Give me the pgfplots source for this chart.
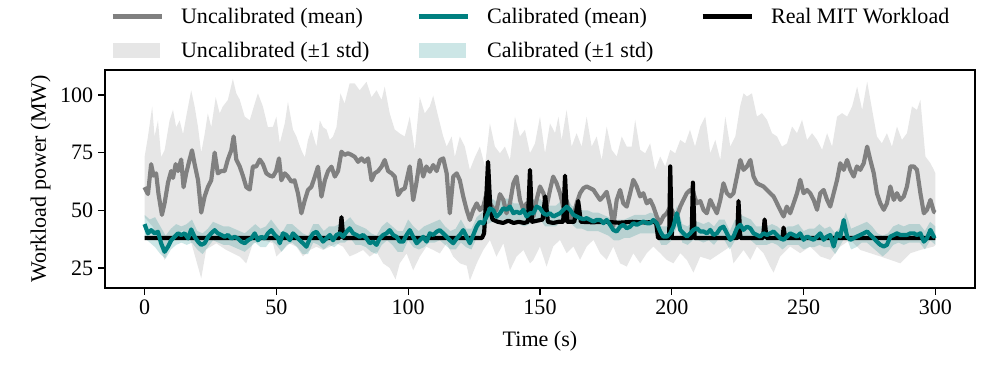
\documentclass[border=0pt]{standalone}
\usepackage{fontspec}
\setmainfont{Liberation Serif}
\usepackage{pgfplots}
\pgfplotsset{compat=1.18}
\usepackage{pgfplotstable}
\usepgfplotslibrary{fillbetween}
\definecolor{tealc}{HTML}{008080}
\definecolor{grayc}{HTML}{808080}
\pgfplotsset{
  lineleg/.style={legend image code/.code={\draw[##1] (0bp,0bp) -- (36bp,0bp);}},
  patchleg/.style={legend image code/.code={\fill[##1] (0bp,-5.4bp) rectangle (34bp,5.4bp);}},
}

% uncalibrated mean
\pgfplotstableread{
t v
0 60
1.3 57
2.5 70
3.4 65
4.4 66
5.3 57
6.6 48
7.6 53
8.9 62
10.1 67
10.8 64
11.8 70
12.7 67
13.9 72
14.8 60
15.8 66
17.1 72
18 76
19 70
20.3 63
21.5 49
22.8 56
24 60
25.3 63
26.6 75
27.8 66
29.1 67
30.4 67
31.6 72
32.9 76
33.8 82
34.8 72
36.1 69
37.3 65
38.6 60
39.9 59
41.1 69
42.4 69
43.7 72
44.9 70
46.2 66
47.5 65
48.7 64.6
49.9 67
51 72.5
51.9 63
53.2 66
54.4 64.6
55.7 62.4
56.9 63
58.2 57.3
59.5 48.7
60.8 54.4
62 58.8
63.3 60.2
64.6 64.6
65.8 68.9
67.1 55.9
68.4 63
69.6 67
70.9 68.9
72.2 64.6
73.4 67
74.7 75.4
75.9 74
77.2 74.7
78.5 74
79.7 73.2
81 71
82.3 72.5
83.5 71
84.8 72.5
86.1 63
87.3 66
88.6 67
89.9 68.9
91.1 71.8
92.4 67
93.7 66
94.9 64.6
96.2 56.6
97.5 58.8
98.7 59.5
100.6 69
101.9 54.4
103.1 61.7
104.4 71.8
105.7 64.6
106.9 69
108.2 66.7
109.5 69.6
110.8 67
112.1 71.8
113.3 72.5
114.6 66
115.8 48.7
117.1 64.6
118.4 66
119.6 63
120.9 55.9
122.2 50.1
123.4 45.8
124.7 50.1
126 53
127.2 50.1
128.5 51.6
129.7 57.3
131 53
132.3 50.8
133.5 50.1
134.8 57
136.1 54.5
137.3 48.7
138.6 53
139.9 61.7
141.1 64.6
142.4 54.5
143.7 50.2
144.9 53
146.2 51.6
147.5 47.3
148.7 54.5
150 60.3
151.3 57.4
152.5 51.6
153.8 58.8
155 64.6
156.3 61.7
157.6 57.4
158.8 51.6
160.1 54.5
161.4 45.8
162.7 47.3
163.9 53
165.2 57.4
166.5 59.6
167.7 60.3
169 59.6
170.3 58.8
171.5 56.7
172.8 54.5
174 56
175.3 58
176.6 51.6
177.8 43
179.1 54.5
180.4 58.8
181.6 53
182.9 51.6
184.2 57.4
185.4 63.2
186.7 60.3
188 56
189.2 57.4
190.5 53
191.8 54.5
193 51.6
194.3 47.3
195.6 44.4
196.8 47.3
198.1 48.7
199.4 51.6
200.6 48.7
201.9 47.3
203.2 51.6
204.4 54.5
205.7 57.4
207 58.8
208.2 57.4
209.5 53
210.8 54
212.1 50
213.3 48.7
214.6 54.5
215.8 51.6
217.1 48.7
218.4 54.5
219.6 61.7
220.9 57.4
222.2 56
223.4 57.4
224.7 64.6
226 71.8
227.2 67.5
228.5 69
229.8 71.8
231 64.6
232.3 61.7
233.5 61
234.8 60.3
236.1 58.8
237.3 57.4
238.6 56
239.9 53
241.1 50.2
242.4 47.3
243.6 51.6
244.9 48.7
246.2 53
247.5 57.4
248.7 63.2
250 57.4
251.3 58.8
252.5 57.4
253.8 54.5
255.1 50.2
256.3 57.4
257.6 58.8
258.9 54.5
260.1 51.6
261.4 57.4
262.7 63.2
263.9 70.4
265.2 67.5
266.5 71.8
267.7 67.5
269 64.6
270.2 69
271.5 67.5
272.8 70.4
274.1 77.6
275.3 71.8
276.6 66.1
277.8 57.4
279.1 53
280.4 50.2
281.6 53
282.9 60.3
284.2 54.5
285.4 57.4
286.7 54.5
288 56
289.2 60.3
290.5 69
291.8 69
293 67.5
294.3 57.4
295.6 48.7
296.8 50.2
298.1 54.5
299.4 49.4
300 49
}\uncalmean

% uncalibrated mean + 1 std
\pgfplotstableread{
t v
0 73
1.3 82
2.9 95
3.8 82
5.1 89
6.3 73
7.6 76
9.5 89
10.8 93.5
12 86
13.3 89
14.6 83
15.8 90.6
17.7 102
19 95
20.3 86
21.5 75
22.8 83
24 92
25.3 86
27 99
28.5 92
29.7 95
31.6 97.8
33.5 107
34.8 100.7
36.1 98
38 90.6
39.9 89
41.8 96.3
43 100.7
44.9 95
46.8 86
48.7 86.2
50 90.6
51.3 79
53.2 87.7
54.4 97
56.3 85
57.6 82
59.5 76
60.8 73
62 80.5
63.3 85
65.2 77.6
66.5 89
67.7 86
69 85
70.3 80.5
71.5 82
72.8 86
74.3 100.7
75.9 96.3
77.8 105
79.7 105
81.6 102
84.2 105.7
86.1 99
88 102
89.9 97.8
91.1 103.6
93 92
94.9 85
96.8 83.3
98.7 82
100.6 90.6
102.5 76
104.4 99
106.3 92
108.2 95
109.5 99.7
111.4 90.6
113.3 82
114.6 77.6
116.5 82
117.7 73.2
119.6 82
121.5 77.6
123.4 67.5
125.3 73
127.2 77.6
129.1 69
131 87.7
132.9 77.6
134.8 74.7
136.7 77.6
138.6 71.8
140.5 90.6
142.4 82
144.3 84.9
146.2 74.7
148.1 79
150 90.6
151.9 74.7
153.8 87.7
155.7 83.4
157 90.6
158.2 80.5
160.1 93.5
162 77.6
163.9 83.4
165.8 77.6
167.7 90.6
169.6 77.6
171.5 82
173.4 71.8
175.3 86.3
177.2 76.2
179.1 73.3
181 82
182.9 77.6
184.8 77.6
186.1 89.2
188 76.2
189.9 74.7
191.8 79
193.7 67.5
195.6 73.3
197.5 69
199.4 76.2
201.3 74.7
203.2 80.5
205.1 79
206.9 84.9
208.8 77.6
210.8 86.3
212.7 90.6
214.6 74.7
216.5 80.5
218.4 71.8
220.3 90.6
222.2 77.6
224.1 82
225.9 95
227.2 100.7
228.5 99.3
230.4 100.7
232.3 90.6
234.2 92.1
236.1 89.2
238 83.4
239.9 82
241.8 77.6
243.7 79
245.6 86.3
247.5 83.4
249.4 89.2
251.3 80.5
253.2 83.4
255.1 80.5
257 76.2
258.9 83.4
260.8 77.6
262.7 90.6
264.6 92.1
266.5 90.6
268.4 95
270.3 103.6
272.2 93.5
274.1 105.8
276 93.5
277.8 82
279.7 79
281.6 83.4
283.5 77.6
285.4 86.3
287.3 80.5
289.2 83.4
291.1 95
293 93.5
294.3 97.9
296.2 73.3
298.1 70.4
299.4 67.5
300 66
}\uncalhi

% uncalibrated mean - 1 std
\pgfplotstableread{
t v
0 47
3.2 42.8
7.6 28.4
10.8 38.5
14.6 41.4
17.1 38.5
21.5 20.5
23.4 33
27.2 35.7
31 32.8
36.1 29.9
38.6 27
41.1 35.7
44.9 37.1
48.7 35.7
50 30
52.5 32.8
55 35.7
57.6 34.2
60.1 30
62.7 32.8
65.2 34.2
67.7 32.8
70.3 34.2
72.8 35.7
75.3 34.2
77.8 30
80.4 31.3
82.9 32.8
85.4 29.9
88 32
90.5 27
93 25
95.2 20
96.8 27
99.4 31.3
101.9 24
104.4 29.9
106.9 34.2
109.5 32.8
112 31.3
114.6 35.7
117.1 29.9
119.6 27
122.2 26
123.4 19.5
126 27
128.5 32.8
131 37.1
133.5 29.9
136.1 35.7
138.6 24
141.1 29.9
143.7 32.8
146.2 27
147.5 28.5
150 34.3
152.5 25.6
155 34.3
157.6 37.2
160.1 31.4
162.7 34.3
165.2 28.5
167.7 34.3
170.3 37.2
172.8 31.4
175.3 28.5
177.8 34.3
180.4 27
182.9 25.6
185.4 31.4
188 27
190.5 31.4
193 34.3
195.6 31.4
198.1 28.5
200.6 27
203.2 31.4
205.7 28.5
208.2 23
210.8 29.9
214.6 28.5
218.4 31.4
222.2 34.3
223.4 27
227.2 32.8
229.8 28.5
232.3 34.3
234.8 31.4
237.3 25.6
238.6 23
241.1 30
244.9 34.3
248.7 31.4
252.5 34.3
256.3 30
260.1 28.5
263.9 34.3
267.7 37.2
271.5 32.8
275.3 31.4
279.1 30
282.9 28.5
286.7 27
290.5 31.4
294.3 32.8
299.4 34.3
300 35
}\uncallo

% calibrated mean
\pgfplotstableread{
t v
0 44
1.3 40
2.5 41.4
3.8 40
5.1 40.7
6.3 35.7
7.6 32
8.9 34.2
10.1 37
11.4 38.5
12.7 40
13.9 39.3
15.2 40
16.5 37.8
17.7 41.7
19 38.5
20.3 36.4
21.5 35
22.8 35.7
24.1 38.5
25.3 40
26.6 41.4
27.8 40
29.1 39.3
30.4 38.5
31.6 39.3
32.9 37.8
34.2 38.5
35.4 37.8
36.7 36.4
38 35.7
39.2 37
40.5 37.8
41.8 40
43 37
44.3 38.5
45.6 37.8
46.8 40
48.1 41.4
49.4 39.3
50.6 38
51.3 35.7
52.5 40
53.8 39.3
55.1 37
56.3 40
57.6 38.5
58.9 37
60.1 35.7
61.4 34.2
62.7 37.8
64 40
65.2 40.7
66.5 38.5
67.7 36.4
69 37.8
70.3 39.3
71.5 37
72.8 39.3
74.1 40
75.3 38.5
76.6 40.7
77.8 42.2
79.1 40
80.4 39.3
81.6 38.5
82.9 39.3
84.2 37.8
85.4 35.7
86.7 36.4
88 35
89.2 37.8
90.5 39.3
91.8 40
93 41.4
94.3 39.3
95.6 38.5
96.8 36.4
98.1 36.4
99.4 39.3
100.6 41.4
101.9 38.5
103.2 35.7
104.4 37
105.7 38.5
107 36.4
108.2 40
109.5 39.3
110.8 40.7
112 41.4
113.3 40
114.6 38.5
115.8 37
117.1 35.7
118.4 37.8
119.6 39.3
120.9 41.4
122.2 38.5
123.4 35.7
124.7 39.3
126 43
127.2 45
128.5 44.3
129.7 47.2
131 50.8
132.3 50
133.5 47.2
134.8 48.7
136.1 50.9
137.3 50.2
138.6 51.6
139.9 48.7
141.1 49.4
142.4 48.7
143.7 50.2
144.9 47.3
146.2 48.7
147.5 48.7
148.7 51.6
150 50.9
151.3 48.7
152.5 48
153.8 48.7
155.1 47.3
156.3 48
157.6 48.7
158.9 50.2
160.1 51.6
161.4 50.2
162.7 48
163.9 47.3
165.2 46.6
166.5 46.1
167.7 46.6
169 45.8
170.3 45.1
171.5 45.8
172.8 45.8
174.1 44.4
175.3 45.8
176.6 43.7
177.8 41.5
179.1 40.8
180.4 42.9
181.6 43.7
182.9 42.2
184.2 42.9
185.4 44.4
186.7 43.7
188 44.4
189.2 45.1
190.5 44.4
191.8 44.4
193 45.8
194.3 44.4
195.6 40.8
196.8 38.6
198.1 38.6
199.4 40
200.6 42.9
201.9 48.7
203.2 41.5
204.4 40
205.7 38.6
207 40
208.2 41.5
209.5 42.2
210.8 40.8
212.1 40.8
213.3 40
214.6 41.5
215.8 39.3
217.1 40
218.4 42.2
219.6 42.9
220.9 40
222.2 37.2
223.4 38.6
224.7 42.2
226 43.7
227.2 41.5
228.5 42.9
229.8 42.2
231 40
232.3 39.3
233.5 38.6
234.8 40
236.1 39.3
237.3 40
238.6 40.8
239.9 39.3
241.1 37.9
242.4 37.2
243.7 38.6
244.9 40
246.2 39.3
247.5 38.6
248.7 40
250 37.2
251.3 38.6
252.5 37.9
253.8 37.2
255.1 38.6
256.3 40
257.6 37.2
258.9 38.6
260.1 39.3
261.4 34.3
262.7 40
263.9 38.6
265.2 45.8
266.5 38.6
267.7 37.2
269 37.9
270.2 38.6
271.5 39.3
272.8 40
274.1 40.8
275.3 39.3
276.6 37.9
277.8 36.4
279.1 35
280.4 34.3
281.6 35
282.9 38.6
284.2 39.3
285.4 40
286.7 39.3
288 39.3
289.2 39.3
290.5 40
291.8 40
293 39.3
294.3 40
295.6 36.4
296.8 37.9
298.1 41.5
299.4 38.6
300 39
}\calmean

% calibrated mean -/+ 1 std
\pgfplotstableread{
t lo hi
0 38 48
2 36 46
4 34 47
6 31 43
8 29 39
10 33 42
12 35 44
14 36 43
16 35 44
18 36 46
20 33 41
22 31 40
24 34 42
26 37 45
28 36 44
30 35 43
32 35 43
34 34 42
36 33 41
38 32 40
40 34 42
42 36 44
44 34 42
46 34 43
48 37 46
50 35 43
52 32 40
54 35 44
56 36 44
58 34 42
60 31 40
62 31 39
64 36 44
66 35 44
68 33 41
70 35 43
72 34 43
74 36 44
76 36 45
78 38 47
80 35 44
82 35 43
84 34 42
86 32 40
88 31 39
90 35 43
92 37 45
94 35 43
96 32 41
98 32 41
100 37 46
102 34 43
104 33 41
106 34 43
108 36 44
110 36 45
112 37 46
114 35 43
116 33 41
118 33 42
120 36 46
122 34 42
124 33 42
126 38 47
128 40 49
130 44 53
132 45 55
134 44 53
136 46 55
138 46 55
140 44 53
142 44 53
144 43 52
146 44 53
148 46 55
150 46 55
152 43 52
154 43 52
156 43 52
158 45 54
160 47 56
162 44 52
164 42 51
166 42 50
168 41 50
170 41 49
172 41 49
174 40 48
176 39 47
178 37 45
180 37 46
182 38 46
184 38 47
186 39 48
188 40 48
190 40 48
192 40 49
194 40 48
196 35 43
198 35 43
200 37 46
202 43 52
204 36 44
206 35 43
208 37 45
210 37 45
212 36 44
214 37 45
216 35 43
218 38 46
220 37 46
222 33 41
224 37 46
226 39 48
228 38 47
230 37 46
232 35 43
234 35 43
236 35 43
238 36 44
240 35 43
242 33 41
244 35 43
246 35 43
248 35 44
250 33 41
252 34 42
254 34 42
256 35 44
258 34 42
260 34 43
262 31 40
264 35 43
266 39 49
268 33 42
270 34 43
272 36 44
274 36 45
276 34 43
278 32 40
280 30 39
282 32 40
284 35 43
286 36 44
288 35 43
290 36 44
292 36 44
294 36 44
296 33 41
298 37 45
300 35 43
}\calband

% real workload
\pgfplotstableread{
t v
0 38
74 38
74.7 47
75.4 38
128 38
128.8 40
129.6 55
130.3 71
131.2 50
132 46
134 45
136 44.5
138 45.5
140 44.5
142 45
144 44.5
145.4 45
146.2 67.5
147 45
149 45.5
151 46
152 56
153 45
155 44.5
157 45
158.8 45
159.5 65
160.3 45
163 45
164.5 54
165.5 45
170 44.8
175 45
180 44.6
185 45
190 44.7
194 45
194.8 38
199 38
199.4 69
200 38
207.5 38
208 62
208.7 38
224.8 38
225.3 54
226 38
234.6 38
235.2 46
235.9 38
242 38
242.4 42.5
243 38
300 38
}\realmit

\begin{document}
\begin{tikzpicture}
\begin{axis}[
  scale only axis,
  width=628.9bp, height=157.6bp,
  xmin=-15, xmax=315, ymin=16.3, ymax=110.8,
  xtick={0,50,100,150,200,250,300},
  ytick={25,50,75,100},
  tick align=outside, xtick pos=bottom, ytick pos=left,
  major tick length=5bp,
  axis line style={line width=0.9bp},
  every tick/.style={black, line width=0.9bp},
  font=\fontsize{16}{19}\selectfont,
  /pgf/number format/assume math mode=true,
  xlabel={Time (s)}, ylabel={Workload power (MW)},
  xlabel style={yshift=-5bp},
  legend columns=3,
  legend cell align=left,
  legend style={draw=none, fill=none, at={(0.49,1.023)}, anchor=south,
    font=\fontsize{16}{19}\selectfont,
    /tikz/every odd column/.append style={column sep=10bp},
    /tikz/every even column/.append style={column sep=32bp},
    row sep=8bp},
  line join=round,
]
\addplot[name path=gu, draw=none, forget plot] table[x=t,y=v] {\uncalhi};
\addplot[name path=gl, draw=none, forget plot] table[x=t,y=v] {\uncallo};
\addplot[fill=grayc, fill opacity=0.2, draw=none, forget plot] fill between[of=gu and gl];
\addplot[grayc, line width=3bp, forget plot] table[x=t,y=v] {\uncalmean};
\addplot[black, line width=3bp, forget plot] table[x=t,y=v] {\realmit};
\addplot[name path=cu, draw=none, forget plot] table[x=t,y=hi] {\calband};
\addplot[name path=cl, draw=none, forget plot] table[x=t,y=lo] {\calband};
\addplot[fill=tealc, fill opacity=0.2, draw=none, forget plot] fill between[of=cu and cl];
\addplot[tealc, line width=3bp, forget plot] table[x=t,y=v] {\calmean};

\addlegendimage{grayc, line width=3bp, lineleg}
\addlegendentry{Uncalibrated (mean)}
\addlegendimage{tealc, line width=3bp, lineleg}
\addlegendentry{Calibrated (mean)}
\addlegendimage{black, line width=3bp, lineleg}
\addlegendentry{Real MIT Workload}
\addlegendimage{fill=grayc, fill opacity=0.2, draw=none, patchleg}
\addlegendentry{Uncalibrated (±1 std)}
\addlegendimage{fill=tealc, fill opacity=0.2, draw=none, patchleg}
\addlegendentry{Calibrated (±1 std)}
\end{axis}
\path ([xshift=-75.9bp,yshift=-59.3bp]current axis.south west) rectangle ([xshift=15.2bp,yshift=50.6bp]current axis.north east);
\end{tikzpicture}
\end{document}
